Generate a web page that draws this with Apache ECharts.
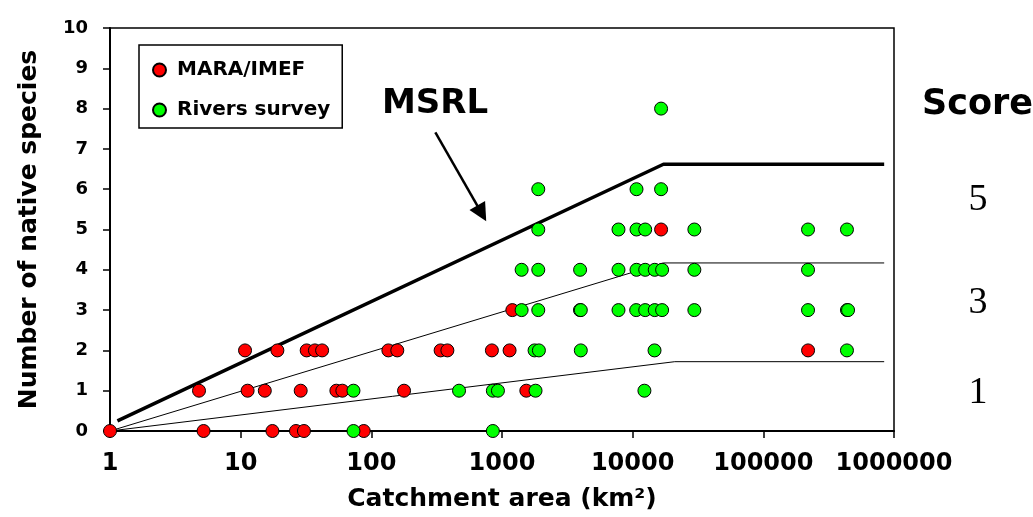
<!DOCTYPE html>
<html>
<head>
<meta charset="utf-8">
<script src="https://cdn.jsdelivr.net/npm/echarts@6/dist/echarts.min.js"></script>
<style>
  html, body { margin: 0; padding: 0; background: #fff; }
</style>
</head>
<body>
<div id="chart" style="width: 1033px;height: 517px;"></div>
<script>
// catchment area (km2), number of native species
const maraPoints = [
  [1, 0], [5.2, 0], [17.5, 0], [26.5, 0], [30.5, 0], [87.5, 0],
  [4.8, 1], [11.3, 1], [15.3, 1], [28.8, 1], [54, 1], [60, 1], [178, 1], [1535, 1],
  [10.8, 2], [19.1, 2], [32, 2], [37, 2], [42, 2], [135, 2], [158, 2], [339, 2],
  [382, 2], [837, 2], [1143, 2], [220000, 2],
  [1200, 3],
  [16500, 5]
];
const riversPoints = [
  [73, 0], [851, 0],
  [73, 1], [469, 1], [851, 1], [931, 1], [1806, 1], [12300, 1],
  [1775, 2], [1916, 2], [4010, 2], [14700, 2], [436500, 2],
  [1413, 3], [1895, 3], [3950, 3], [4010, 3], [7790, 3], [10640, 3], [12470, 3],
  [14750, 3], [16800, 3], [29660, 3], [219800, 3], [436500, 3], [445000, 3],
  [1413, 4], [1895, 4], [3960, 4], [7790, 4], [10700, 4], [12470, 4], [14750, 4],
  [16800, 4], [29660, 4], [219800, 4],
  [1895, 5], [7790, 5], [10700, 5], [12470, 5], [29660, 5], [219800, 5], [436500, 5],
  [1895, 6], [10700, 6], [16500, 6],
  [16500, 8]
];
// maximum species richness line and score boundaries
const msrlLine = [[1.14, 0.25], [17200, 6.62], [841000, 6.62]];
const upperBand = [[1, 0], [17200, 4.17], [841000, 4.17]];
const lowerBand = [[1, 0], [21000, 1.72], [841000, 1.72]];
const arrowFrom = [309, 7.41];
const arrowTo = [700, 5.4];
const scoreLabels = ['5', '3', '1'];

const bold = 'DejaVu Sans';
const myChart = echarts.init(document.getElementById('chart'));

const option = {
  animation: false,
  grid: {
    left: 110, right: 139, top: 28, bottom: 84.5,
    show: true, borderColor: '#000', borderWidth: 1.5
  },
  legend: {
    data: ['MARA/IMEF', 'Rivers survey'],
    orient: 'vertical',
    left: 139, top: 45,
    padding: [15, 12, 8, 13],
    itemGap: 20,
    itemWidth: 13, itemHeight: 13,
    borderColor: '#000', borderWidth: 1.5,
    textStyle: {
      fontFamily: bold, fontWeight: 'bold', fontSize: 20, color: '#000',
      padding: [0, 0, 0, 6]
    }
  },
  xAxis: {
    type: 'log', logBase: 10, min: 1, max: 1000000,
    name: 'Catchment area (km²)',
    nameLocation: 'middle', nameGap: 56,
    nameTextStyle: { fontFamily: bold, fontWeight: 'bold', fontSize: 25, color: '#000' },
    axisLine: { lineStyle: { color: '#000', width: 2 } },
    axisTick: { length: 7, lineStyle: { color: '#000', width: 1.5 } },
    axisLabel: {
      margin: 21, fontFamily: bold, fontWeight: 'bold', fontSize: 24, color: '#000',
      formatter: v => String(Math.round(v))
    },
    splitLine: { show: false }, minorTick: { show: false }
  },
  yAxis: {
    type: 'value', min: 0, max: 10, interval: 1,
    name: 'Number of native species',
    nameLocation: 'middle', nameGap: 68,
    nameTextStyle: { fontFamily: bold, fontWeight: 'bold', fontSize: 25, color: '#000' },
    axisLine: { show: true, lineStyle: { color: '#000', width: 2 } },
    axisTick: { show: true, length: 7, lineStyle: { color: '#000', width: 1.5 } },
    axisLabel: { margin: 22, fontFamily: bold, fontWeight: 'bold', fontSize: 18, color: '#000' },
    splitLine: { show: false }
  },
  series: [
    {
      name: 'MSRL', type: 'line', data: msrlLine, showSymbol: false, z: 1,
      lineStyle: { color: '#000', width: 3.5 },
      markLine: {
        silent: true, symbol: ['none', 'triangle'], symbolSize: 18,
        label: { show: false },
        lineStyle: { color: '#000', width: 2.5, type: 'solid' },
        data: [[{ coord: arrowFrom }, { coord: arrowTo }]]
      }
    },
    {
      name: 'upper', type: 'line', data: upperBand, showSymbol: false, z: 1,
      lineStyle: { color: '#000', width: 1 }
    },
    {
      name: 'lower', type: 'line', data: lowerBand, showSymbol: false, z: 1,
      lineStyle: { color: '#000', width: 1 }
    },
    {
      name: 'MARA/IMEF', type: 'scatter', data: maraPoints, symbolSize: 13, clip: false,
      itemStyle: { color: '#ff0000', borderColor: '#000', borderWidth: 1, opacity: 1 }
    },
    {
      name: 'Rivers survey', type: 'scatter', data: riversPoints, symbolSize: 13, clip: false,
      itemStyle: { color: '#00ff00', borderColor: '#000', borderWidth: 1, opacity: 1 }
    }
  ],
  graphic: [
    {
      type: 'text', x: 435, y: 104,
      style: { text: 'MSRL', font: 'bold 34px "DejaVu Sans"', fill: '#000', textAlign: 'center', textVerticalAlign: 'middle' }
    },
    {
      type: 'text', x: 922, y: 105,
      style: { text: 'Score', font: 'bold 35px "DejaVu Sans"', fill: '#000', textAlign: 'left', textVerticalAlign: 'middle' }
    },
    {
      type: 'text', x: 978, y: 200,
      style: { text: scoreLabels[0], font: '38px "Liberation Serif"', fill: '#000', textAlign: 'center', textVerticalAlign: 'middle' }
    },
    {
      type: 'text', x: 978, y: 303,
      style: { text: scoreLabels[1], font: '38px "Liberation Serif"', fill: '#000', textAlign: 'center', textVerticalAlign: 'middle' }
    },
    {
      type: 'text', x: 978, y: 393,
      style: { text: scoreLabels[2], font: '38px "Liberation Serif"', fill: '#000', textAlign: 'center', textVerticalAlign: 'middle' }
    }
  ]
};

myChart.setOption(option);
</script>
</body>
</html>
